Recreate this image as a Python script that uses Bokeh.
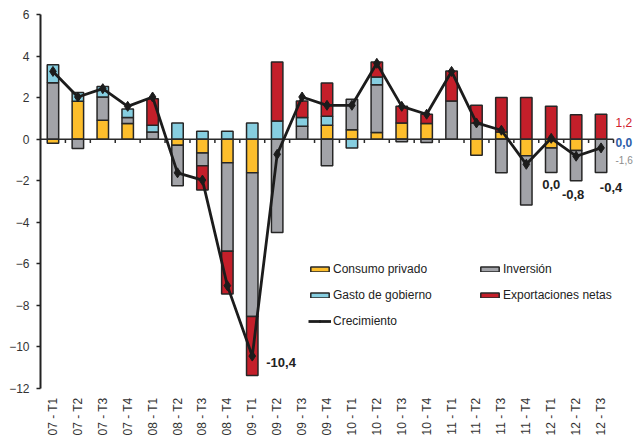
import numpy as np
from math import pi
from bokeh.plotting import figure
from bokeh.models import (Range1d, FixedTicker, Legend, LegendItem, Label,
                          ColumnDataSource)
from bokeh.embed import file_html
from bokeh.resources import INLINE

quarters = ["07 - T1", "07 - T2", "07 - T3", "07 - T4",
            "08 - T1", "08 - T2", "08 - T3", "08 - T4",
            "09 - T1", "09 - T2", "09 - T3", "09 - T4",
            "10 - T1", "10 - T2", "10 - T3", "10 - T4",
            "11 - T1", "11 - T2", "11 - T3", "11 - T4",
            "12 - T1", "12 - T2", "12 - T3"]

consumo = [-0.20, 1.82, 0.91, 0.75, 0.00, -0.29, -0.66, -1.14, -1.62, 0.00, 0.00, 0.67,
           0.45, 0.32, 0.78, 0.75, 0.00, -0.77, 0.35, -0.80, -0.42, -0.55, 0.00]
inversion = [2.72, -0.45, 1.12, 0.29, 0.35, -1.95, -0.62, -4.26, -6.92, -4.49, 0.62, -1.28,
             1.47, 2.30, -0.13, -0.16, 1.84, 0.78, -1.62, -2.37, -1.18, -1.45, -1.60]
gasto = [0.86, 0.42, 0.51, 0.41, 0.32, 0.78, 0.38, 0.38, 0.78, 0.88, 0.42, 0.43,
         -0.42, 0.37, 0.00, 0.00, 0.00, 0.00, 0.00, 0.00, 0.00, 0.00, 0.00]
exportaciones = [0.00, 0.00, 0.00, 0.00, 1.28, 0.00, -1.17, -2.05, -2.83, 2.83, 0.80, 1.60,
                 0.00, 0.72, 0.80, 0.45, 1.44, 0.85, 1.65, 2.00, 1.58, 1.18, 1.20]
crecimiento = [3.26, 2.03, 2.43, 1.58, 2.03, -1.62, -1.97, -7.05, -10.44, -0.73, 2.03, 1.63,
               1.63, 3.65, 1.58, 1.20, 3.26, 0.78, 0.43, -1.21, 0.04, -0.82, -0.42]

y_ticks = list(range(-12, 7, 2))

FONT = "Liberation Sans"
n = len(quarters)
x = np.arange(1, n + 1)

# frame spans 40..633 px; categories occupy 40..613 px, leaving room for side labels
x_end = 0.5 + n * (633 - 40) / (613 - 40)

p = figure(width=633, height=438, x_range=Range1d(0.5, x_end), y_range=Range1d(-12, 6),
           output_backend="svg", toolbar_location=None,
           min_border_left=40, min_border_right=0, min_border_top=14, min_border_bottom=49)
p.outline_line_color = None
p.xgrid.grid_line_color = None
p.ygrid.grid_line_color = None
p.background_fill_color = "white"

series = [("Consumo privado", consumo, "#FDBE2C"),
          ("Inversión", inversion, "#A2A3A8"),
          ("Gasto de gobierno", gasto, "#86CEE0"),
          ("Exportaciones netas", exportaciones, "#C41F2A")]

pos = np.zeros(n)
neg = np.zeros(n)
rends = {}
for name, vals, col in series:
    v = np.array(vals, dtype=float)
    bottom = np.where(v >= 0, pos, neg)
    top = bottom + v
    pos = np.where(v > 0, pos + v, pos)
    neg = np.where(v < 0, neg + v, neg)
    m = v != 0
    src = ColumnDataSource(dict(x=x[m], bottom=bottom[m], top=top[m]))
    rends[name] = p.vbar(x="x", bottom="bottom", top="top", width=0.46, source=src,
                         fill_color=col, line_color="#262626", line_width=1.5)

# zero axis line and category boundary ticks
p.segment(x0=[0.5], y0=[0], x1=[n + 0.5], y1=[0], line_color="#2a2a2a", line_width=1.5)
bounds = np.arange(1.5, n + 1, 1.0)
p.segment(x0=bounds, y0=np.zeros(len(bounds)), x1=bounds, y1=np.full(len(bounds), -0.19),
          line_color="#2a2a2a", line_width=1.5)

ln = p.line(x, crecimiento, line_color="#1c1c1c", line_width=2.8)
sc = p.scatter(x, crecimiento, marker="diamond", size=10, fill_color="#1c1c1c",
               line_color="#1c1c1c")

# axes
p.yaxis.ticker = FixedTicker(ticks=y_ticks)
p.yaxis.major_tick_out = 4
p.yaxis.major_tick_in = 0
p.yaxis.minor_tick_line_color = None
p.yaxis.axis_line_width = 2
p.yaxis.axis_line_color = "#222222"
p.yaxis.major_tick_line_color = "#222222"
p.yaxis.major_tick_line_width = 1.5
p.yaxis.major_label_standoff = 7
p.yaxis.major_label_text_font = FONT
p.yaxis.major_label_text_font_size = "12px"
p.yaxis.major_label_text_color = "#333333"

p.xaxis.ticker = FixedTicker(ticks=list(x))
p.xaxis.major_label_overrides = {int(i): q for i, q in zip(x, quarters)}
p.xaxis.major_label_orientation = pi / 2
p.xaxis.axis_line_color = None
p.xaxis.major_tick_line_color = None
p.xaxis.minor_tick_line_color = None
p.xaxis.major_tick_out = 0
p.xaxis.major_tick_in = 0
p.xaxis.major_label_standoff = 9
p.xaxis.major_label_text_font = FONT
p.xaxis.major_label_text_font_size = "12px"
p.xaxis.major_label_text_color = "#333333"

# legends
leg_style = dict(padding=0, margin=0, border_line_alpha=0, background_fill_alpha=0,
                 glyph_width=23, glyph_height=6, label_height=14, spacing=12,
                 label_standoff=2, label_text_font=FONT, label_text_font_size="12px",
                 label_text_color="#222222")
leg1 = Legend(items=[LegendItem(label="Consumo privado", renderers=[rends["Consumo privado"]]),
                     LegendItem(label="Gasto de gobierno", renderers=[rends["Gasto de gobierno"]]),
                     LegendItem(label="Crecimiento", renderers=[ln, sc])],
              location=(268, 60), **leg_style)
leg2 = Legend(items=[LegendItem(label="Inversión", renderers=[rends["Inversión"]]),
                     LegendItem(label="Exportaciones netas", renderers=[rends["Exportaciones netas"]])],
              location=(438, 86), **leg_style)
p.add_layout(leg1, "center")
p.add_layout(leg2, "center")


def fmt(v):
    return f"{v:.1f}".replace(".", ",")


# growth value labels
for idx, dx, dy, align in [(8, 14, -6, "left"), (20, 0, -46, "center"),
                           (21, -3, -38, "center"), (22, 10, -40, "center")]:
    p.add_layout(Label(x=x[idx], y=crecimiento[idx], x_offset=dx, y_offset=dy,
                       text=fmt(crecimiento[idx]), text_align=align, text_baseline="middle",
                       text_font=FONT, text_font_size="13px", text_font_style="bold",
                       text_color="#222222"))

# last-quarter component labels at right
for val, dy, col, style, size in [(exportaciones[-1], 17, "#D0202A", "normal", "12px"),
                                  (gasto[-1], -3, "#2F5EA8", "bold", "12px"),
                                  (inversion[-1], -21, "#8C8C8C", "normal", "10px")]:
    p.add_layout(Label(x=n + 0.5, y=0, x_offset=2, y_offset=dy, text=fmt(val),
                       text_align="left", text_baseline="middle", text_font=FONT,
                       text_font_size=size, text_font_style=style, text_color=col))

open("out.html", "w").write(file_html(p, INLINE))
